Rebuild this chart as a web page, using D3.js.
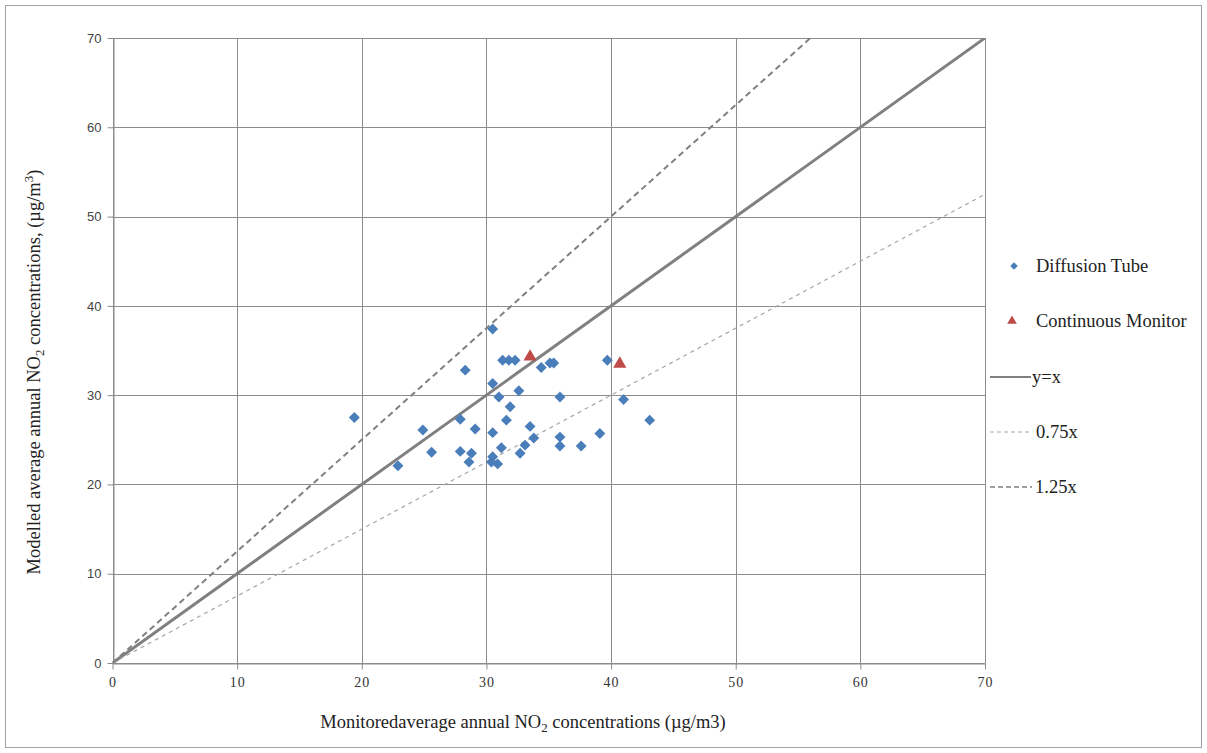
<!DOCTYPE html>
<html><head><meta charset="utf-8">
<script src="https://cdn.jsdelivr.net/npm/d3@7"></script>
<style>body{margin:0;background:#fff}</style>
</head><body>
<script>
// Data
const tubeX = [19.4,22.9,24.9,25.6,27.9,27.9,28.3,28.6,28.8,29.1,30.5,30.5,30.5,30.5,30.4,30.9,31.0,31.2,31.3,31.8,32.3,31.6,31.9,32.6,32.7,33.1,33.5,33.8,34.4,35.1,35.4,35.9,35.9,35.9,37.6,39.1,39.7,41.0,43.1];
const tubeY = [27.5,22.1,26.1,23.6,27.3,23.7,32.8,22.5,23.5,26.2,37.4,31.3,25.8,23.1,22.5,22.3,29.8,24.1,33.9,33.9,33.9,27.2,28.7,30.5,23.5,24.4,26.5,25.2,33.1,33.6,33.6,29.8,25.3,24.3,24.3,25.7,33.9,29.5,27.2];
const monX = [33.5,40.7];
const monY = [34.3,33.5];
const ticks = [0,10,20,30,40,50,60,70];
const ratios = [1,0.75,1.25];
const legendLabels = ["Diffusion Tube","Continuous Monitor","y=x","0.75x","1.25x"];

const W=1207,H=753;
const svg=d3.select("body").append("svg").attr("width",W).attr("height",H);
svg.append("rect").attr("x",5.5).attr("y",5.5).attr("width",1196).attr("height",742)
  .attr("fill","#fff").attr("stroke","#a0a0a0").attr("stroke-width",1);

const x=d3.scaleLinear().domain([0,70]).range([112.5,985]);
const y=d3.scaleLinear().domain([0,70]).range([663,38]);
const grid="#8c8c8c";

// gridlines
svg.append("g").selectAll("line").data(ticks).join("line")
  .attr("x1",d=>Math.round(x(d))+0.5).attr("x2",d=>Math.round(x(d))+0.5)
  .attr("y1",y(70)).attr("y2",y(0)).attr("stroke",grid).attr("stroke-width",1);
svg.append("g").selectAll("line").data(ticks).join("line")
  .attr("y1",d=>Math.round(y(d))+0.5).attr("y2",d=>Math.round(y(d))+0.5)
  .attr("x1",x(0)).attr("x2",x(70)).attr("stroke",grid).attr("stroke-width",1);

// axes
const xa=svg.append("g").attr("transform",`translate(0,${Math.round(y(0))+0.5})`)
  .call(d3.axisBottom(x).tickValues(ticks).tickSize(6).tickSizeOuter(0).tickPadding(8));
const ya=svg.append("g").attr("transform",`translate(${Math.round(x(0))+0.5},0)`)
  .call(d3.axisLeft(y).tickValues(ticks).tickSize(6).tickSizeOuter(0).tickPadding(6));
[xa,ya].forEach(a=>{a.select(".domain").attr("stroke",grid);a.selectAll(".tick line").attr("stroke",grid);});
xa.selectAll("text").attr("font-family","Liberation Serif").attr("font-size",14).attr("fill","#333").attr("letter-spacing",1);
ya.selectAll("text").attr("font-family","Liberation Sans").attr("font-size",13).attr("fill","#444");

// reference lines
const clip=svg.append("clipPath").attr("id","pc").append("rect")
  .attr("x",x(0)).attr("y",y(70)).attr("width",x(70)-x(0)).attr("height",y(0)-y(70));
const lineStyles=[{c:"#808080",w:3,d:null},{c:"#a6a6a6",w:1.2,d:"4,4"},{c:"#808080",w:2,d:"6,4"}];
svg.append("g").attr("clip-path","url(#pc)").selectAll("line").data(ratios).join("line")
  .attr("x1",x(0)).attr("y1",y(0)).attr("x2",x(70)).attr("y2",r=>y(70*r))
  .attr("stroke",(r,i)=>lineStyles[i].c).attr("stroke-width",(r,i)=>lineStyles[i].w)
  .attr("stroke-dasharray",(r,i)=>lineStyles[i].d);

// points
const blue="#4a7ebb", red="#be4b48";
const diamond=d3.symbol(d3.symbolSquare,60);
svg.append("g").selectAll("path").data(tubeX.map((v,i)=>[v,tubeY[i]])).join("path")
  .attr("d",diamond).attr("fill",blue)
  .attr("transform",d=>`translate(${x(d[0])},${y(d[1])}) rotate(45)`);
const tri=d3.symbol(d3.symbolTriangle,75);
svg.append("g").selectAll("path").data(monX.map((v,i)=>[v,monY[i]])).join("path")
  .attr("d",tri).attr("fill",red)
  .attr("transform",d=>`translate(${x(d[0])},${y(d[1])})`);

// legend
const lg=svg.append("g");
const ly=[266,321,377,432,487];
lg.append("path").attr("d",d3.symbol(d3.symbolSquare,28)).attr("fill",blue)
  .attr("transform",`translate(1014,${ly[0]}) rotate(45)`);
lg.append("path").attr("d",d3.symbol(d3.symbolTriangle,40)).attr("fill",red)
  .attr("transform",`translate(1012,${ly[1]})`);
lg.append("line").attr("x1",990).attr("x2",1031).attr("y1",ly[2]).attr("y2",ly[2]).attr("stroke","#808080").attr("stroke-width",2);
lg.append("line").attr("x1",990).attr("x2",1029).attr("y1",ly[3]).attr("y2",ly[3]).attr("stroke","#a6a6a6").attr("stroke-width",1).attr("stroke-dasharray","4,3");
lg.append("line").attr("x1",990).attr("x2",1032).attr("y1",ly[4]).attr("y2",ly[4]).attr("stroke","#808080").attr("stroke-width",1.5).attr("stroke-dasharray","5,3");
const lx=[1036,1036,1032,1036,1035];
lg.selectAll("text").data(legendLabels).join("text")
  .attr("x",(d,i)=>lx[i]).attr("y",(d,i)=>ly[i]).attr("dy","0.35em")
  .attr("font-family","Liberation Serif").attr("font-size",18.5).attr("fill","#222").text(d=>d);

// axis titles
const xt=svg.append("text").attr("x",523).attr("y",728).attr("text-anchor","middle")
  .attr("font-family","Liberation Serif").attr("font-size",18.5).attr("fill","#222");
xt.append("tspan").text("Monitoredaverage annual  NO");
xt.append("tspan").attr("font-size",13).attr("dy",4).text("2");
xt.append("tspan").attr("dy",-4).text(" concentrations (µg/m3)");

const yt=svg.append("text").attr("transform","translate(40,372) rotate(-90)").attr("text-anchor","middle")
  .attr("font-family","Liberation Serif").attr("font-size",18.5).attr("fill","#222");
yt.append("tspan").text("Modelled average annual NO");
yt.append("tspan").attr("font-size",13).attr("dy",4).text("2");
yt.append("tspan").attr("dy",-4).text(" concentrations, (µg/m");
yt.append("tspan").attr("font-size",13).attr("dy",-7).text("3");
yt.append("tspan").attr("dy",7).text(")");
</script>
</body></html>
